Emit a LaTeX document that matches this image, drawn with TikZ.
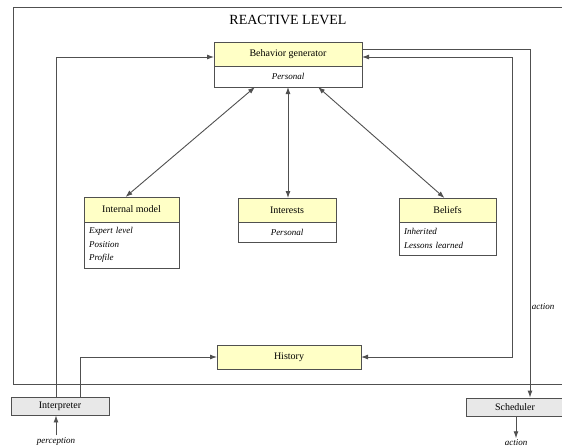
\documentclass[tikz,border=0pt]{standalone}
\usepackage{fontspec}
\setmainfont{Liberation Serif}
\usetikzlibrary{arrows.meta,%
                positioning}

\definecolor{headfill}{RGB}{255,255,198}
\definecolor{iofill}{RGB}{232,232,232}
\definecolor{linegray}{RGB}{80,80,80}

\tikzset{
  head/.style={draw=linegray, fill=headfill, line width=0.9pt, outer sep=0pt,
               minimum height=24, inner sep=2pt, font=\fontsize{10}{12}\selectfont},
  body/.style={draw=linegray, fill=white, line width=0.9pt, outer sep=0pt,
               inner xsep=5pt, inner ysep=2pt, font=\fontsize{9}{13.5}\selectfont\itshape},
  iobox/.style={draw=linegray, fill=iofill, line width=0.9pt,
                minimum width=98, minimum height=18, inner sep=1pt,
                font=\fontsize{10}{12}\selectfont},
  conn/.style={draw=linegray, line width=0.9pt, ->},
  lbl/.style={font=\fontsize{9}{11}\selectfont\itshape, inner sep=1.5pt}
}

\begin{document}
\begin{tikzpicture}[x=1pt,y=-1pt, >={Latex[length=7pt,width=5pt]}]
\useasboundingbox (0,0) rectangle (562,447);
%frame
\draw[linegray, line width=0.9pt] (600,7) -- (13,7) -- (13,384) -- (600,384);
\node[font=\fontsize{14}{16}\selectfont] (title) at (288,20) {REACTIVE LEVEL};

\node[head, minimum width=148] (bghead) at (288,54) {Behavior generator};
\node[body, minimum width=148, minimum height=21, below=0pt of bghead] (bgbody) {Personal};

\node[head, minimum width=95, minimum height=25] (imhead) at (131.5,209.5) {Internal model};
\node[body, minimum width=95, minimum height=46, text width=85, align=left,
      below=0pt of imhead] (imbody) {Expert level\\Position\\Profile};

\node[head, minimum width=98] (inthead) at (287,210) {Interests};
\node[body, minimum width=98, minimum height=20, below=0pt of inthead] (intbody) {Personal};

\node[head, minimum width=97] (belhead) at (447.5,210) {Beliefs};
\node[body, minimum width=97, minimum height=33, text width=87, align=left,
      below=0pt of belhead] (belbody) {Inherited\\Lessons learned};

\node[head, minimum width=144] (hist) at (289,357) {History};

\node[iobox] (interp) at (60,406) {Interpreter};
\node[iobox] (sched) at (515,407) {Scheduler};
\node[lbl] (percep) at (56,441) {perception};
\node[lbl] (act) at (516,443) {action};

\draw[conn, <->] ([xshift=-33]bgbody.south) -- ([xshift=-6]imhead.north);
\draw[conn, <->] (bgbody.south) -- (bgbody.south |- inthead.north);
\draw[conn, <->] ([xshift=30]bgbody.south) -- ([xshift=-3]belhead.north);

\draw[conn] ([xshift=-4]interp.north) |- ([yshift=-3]bghead.west);
\draw[conn] ([xshift=20]interp.north) |- (hist.west);
\draw[conn] ([yshift=5]bghead.east) -| node[lbl, pos=0.87, anchor=west] (actlbl) {action}
      ([xshift=15]sched.north);
\draw[conn, <->] (hist.east) -- ++(151,0) |- ([yshift=-3]bghead.east);

\draw[conn] (percep.north -| 56,0) -- (56,0 |- interp.south);
\draw[conn] (sched.south -| act.north) -- (act.north);
\end{tikzpicture}
\end{document}
